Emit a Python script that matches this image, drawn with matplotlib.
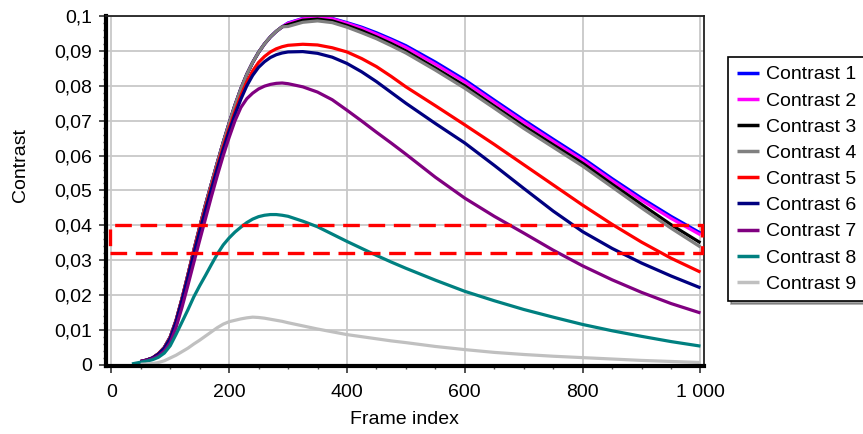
import numpy as np
import matplotlib
matplotlib.use("Agg")
import matplotlib.pyplot as plt
from matplotlib.patches import Rectangle

plt.rcParams['font.family'] = ['Liberation Sans', 'DejaVu Sans']

# Frame positions at which each curve is sampled
frames = [35, 50, 60, 70, 80, 90, 100, 110, 120, 130, 140, 150, 160, 170, 180,
          190, 200, 210, 220, 230, 240, 250, 260, 270, 280, 290, 300, 325, 350,
          375, 400, 425, 450, 475, 500, 550, 600, 650, 700, 750, 800, 850, 900,
          950, 1000]

nan = np.nan
# Shared wash-in segment of the four highest curves (frames 35..290)
rise_top = [nan, 0.0010, 0.0014, 0.0020, 0.0032, 0.0050, 0.0080, 0.0128,
            0.0190, 0.0258, 0.0328, 0.0395, 0.0460, 0.0520, 0.0580, 0.0638,
            0.0693, 0.0745, 0.0792, 0.0833, 0.0867, 0.0896, 0.0920, 0.0940,
            0.0956, 0.0969]

contrast_1 = rise_top + [0.0980, 0.0993, 0.0997, 0.0993, 0.0981, 0.0968,
                         0.0952, 0.0934, 0.0915, 0.0868, 0.0817, 0.0759,
                         0.0702, 0.0647, 0.0593, 0.0534, 0.0478, 0.0426,
                         0.0378]
contrast_2 = rise_top + [0.0979, 0.0992, 0.0996, 0.0992, 0.0979, 0.0965,
                         0.0948, 0.0930, 0.0910, 0.0862, 0.0811, 0.0753,
                         0.0696, 0.0641, 0.0587, 0.0528, 0.0472, 0.0420,
                         0.0373]
contrast_3 = rise_top + [0.0975, 0.0988, 0.0991, 0.0986, 0.0973, 0.0958,
                         0.0940, 0.0921, 0.0900, 0.0851, 0.0800, 0.0742,
                         0.0685, 0.0631, 0.0578, 0.0518, 0.0460, 0.0402,
                         0.0350]
contrast_4 = rise_top + [0.0970, 0.0982, 0.0986, 0.0981, 0.0968, 0.0952,
                         0.0935, 0.0915, 0.0894, 0.0845, 0.0793, 0.0736,
                         0.0678, 0.0624, 0.0570, 0.0510, 0.0450, 0.0392,
                         0.0338]
contrast_5 = [nan, 0.0010, 0.0014, 0.0020, 0.0032, 0.0049, 0.0078, 0.0126,
              0.0188, 0.0255, 0.0324, 0.0390, 0.0452, 0.0512, 0.0570, 0.0626,
              0.0678, 0.0727, 0.0772, 0.0811, 0.0843, 0.0867, 0.0884, 0.0897,
              0.0906, 0.0912, 0.0916, 0.0919, 0.0917, 0.0909, 0.0897, 0.0878,
              0.0855, 0.0827, 0.0797, 0.0743, 0.0688, 0.0632, 0.0574, 0.0516,
              0.0458, 0.0403, 0.0352, 0.0306, 0.0266]
contrast_6 = [nan, 0.0010, 0.0014, 0.0020, 0.0031, 0.0048, 0.0076, 0.0124,
              0.0185, 0.0251, 0.0319, 0.0383, 0.0445, 0.0505, 0.0563, 0.0618,
              0.0670, 0.0718, 0.0762, 0.0800, 0.0830, 0.0853, 0.0869, 0.0881,
              0.0889, 0.0894, 0.0897, 0.0898, 0.0893, 0.0882, 0.0864, 0.0840,
              0.0812, 0.0781, 0.0750, 0.0692, 0.0636, 0.0572, 0.0506, 0.0441,
              0.0382, 0.0334, 0.0292, 0.0255, 0.0221]
contrast_7 = [nan, 0.0010, 0.0013, 0.0018, 0.0026, 0.0040, 0.0064, 0.0108,
              0.0165, 0.0228, 0.0293, 0.0357, 0.0420, 0.0483, 0.0543, 0.0600,
              0.0652, 0.0700, 0.0738, 0.0763, 0.0779, 0.0791, 0.0799, 0.0804,
              0.0807, 0.0808, 0.0806, 0.0797, 0.0782, 0.0760, 0.0730, 0.0699,
              0.0667, 0.0636, 0.0604, 0.0538, 0.0478, 0.0426, 0.0378, 0.0329,
              0.0284, 0.0244, 0.0208, 0.0176, 0.0149]
contrast_8 = [0.0003, 0.0008, 0.0011, 0.0015, 0.0022, 0.0034, 0.0055, 0.0088,
              0.0123, 0.0158, 0.0195, 0.0227, 0.0257, 0.0288, 0.0318, 0.0344,
              0.0364, 0.0381, 0.0395, 0.0408, 0.0418, 0.0425, 0.0429, 0.0431,
              0.0431, 0.0429, 0.0426, 0.0412, 0.0396, 0.0375, 0.0354, 0.0334,
              0.0314, 0.0295, 0.0277, 0.0243, 0.0211, 0.0184, 0.0159, 0.0137,
              0.0116, 0.0098, 0.0082, 0.0067, 0.0054]
contrast_9 = [nan, 0.0002, 0.0003, 0.0004, 0.0007, 0.0012, 0.0020, 0.0028,
              0.0038, 0.0048, 0.0060, 0.0071, 0.0083, 0.0095, 0.0107, 0.0117,
              0.0124, 0.0128, 0.0132, 0.0135, 0.0137, 0.0136, 0.0134, 0.0131,
              0.0128, 0.0125, 0.0121, 0.0112, 0.0103, 0.0095, 0.0087, 0.0081,
              0.0075, 0.0069, 0.0064, 0.0053, 0.0044, 0.0036, 0.0030, 0.0025,
              0.0021, 0.0017, 0.0013, 0.0010, 0.0007]

series = [contrast_1, contrast_2, contrast_3, contrast_4, contrast_5,
          contrast_6, contrast_7, contrast_8, contrast_9]
labels = ['Contrast 1', 'Contrast 2', 'Contrast 3', 'Contrast 4', 'Contrast 5',
          'Contrast 6', 'Contrast 7', 'Contrast 8', 'Contrast 9']
colors = ['#0000ff', '#ff00ff', '#000000', '#808080', '#ff0000',
          '#000080', '#800080', '#008080', '#c0c0c0']

x_ticks = [0, 200, 400, 600, 800, 1000]
x_tick_labels = ['0', '200', '400', '600', '800', '1 000']
y_ticks = [0, 0.01, 0.02, 0.03, 0.04, 0.05, 0.06, 0.07, 0.08, 0.09, 0.1]
y_tick_labels = ['0', '0,01', '0,02', '0,03', '0,04', '0,05', '0,06', '0,07',
                 '0,08', '0,09', '0,1']

# Highlighted contrast band
band_low, band_high = 0.0322, 0.0400

W, H = 863, 434
fig = plt.figure(figsize=(W / 100, H / 100), dpi=100)
ax = fig.add_axes([106 / W, 1 - 366 / H, (704 - 106) / W, (366 - 16) / H])

for vals, lab, col in zip(series, labels, colors):
    ax.plot(frames, vals, color=col, lw=2.3, label=lab, solid_capstyle='butt',
            solid_joinstyle='round')

ax.set_xlim(-9, 1006)
ax.set_ylim(-0.0003, 0.1)
ax.set_xticks(x_ticks)
ax.set_xticklabels(x_tick_labels)
ax.set_yticks(y_ticks)
ax.set_yticklabels(y_tick_labels)
ax.set_xticks(np.arange(0, 1001, 50), minor=True)
ax.set_yticks(np.arange(0, 0.1001, 0.002), minor=True)

ax.grid(True, which='major', color='#c8c8c8', lw=1.3)
ax.set_axisbelow(True)
ax.tick_params(axis='both', which='major', labelsize=14, length=5, width=1.2,
               direction='out', color='#333333')
ax.tick_params(axis='x', which='major', pad=8)
ax.tick_params(axis='y', which='major', pad=5)
ax.tick_params(axis='both', which='minor', length=2.5, width=1.0,
               direction='out', color='#555555')

for side in ('left', 'bottom'):
    ax.spines[side].set_linewidth(3.0)
    ax.spines[side].set_color('black')
for side in ('top', 'right'):
    ax.spines[side].set_linewidth(1.3)
    ax.spines[side].set_color('#222222')

ax.set_xlabel('Frame index', fontsize=14)
ax.xaxis.set_label_coords(404 / W, 1 - 420 / H, transform=fig.transFigure)
ax.xaxis.label.set_va('center')
ax.set_ylabel('Contrast', fontsize=14)
ax.yaxis.set_label_coords(21 / W, 1 - 165 / H, transform=fig.transFigure)
ax.yaxis.label.set_va('center')

band = Rectangle((-3, band_low), 1006, band_high - band_low, fill=False,
                 edgecolor='#ff0000', lw=2.4, linestyle=(0, (5.0, 2.6)),
                 clip_on=False, zorder=5)
ax.add_patch(band)

leg = ax.legend(loc='upper left', bbox_to_anchor=(728 / W, 1 - 57 / H),
                bbox_transform=fig.transFigure, fontsize=14, frameon=True,
                fancybox=False, shadow=True, framealpha=1, edgecolor='black',
                handlelength=1.15, handletextpad=0.35, labelspacing=0.44,
                borderpad=0.45, borderaxespad=0)
leg.get_frame().set_linewidth(1.2)
for line in leg.get_lines():
    line.set_linewidth(2.5)

fig.savefig('out.png', dpi=100)
